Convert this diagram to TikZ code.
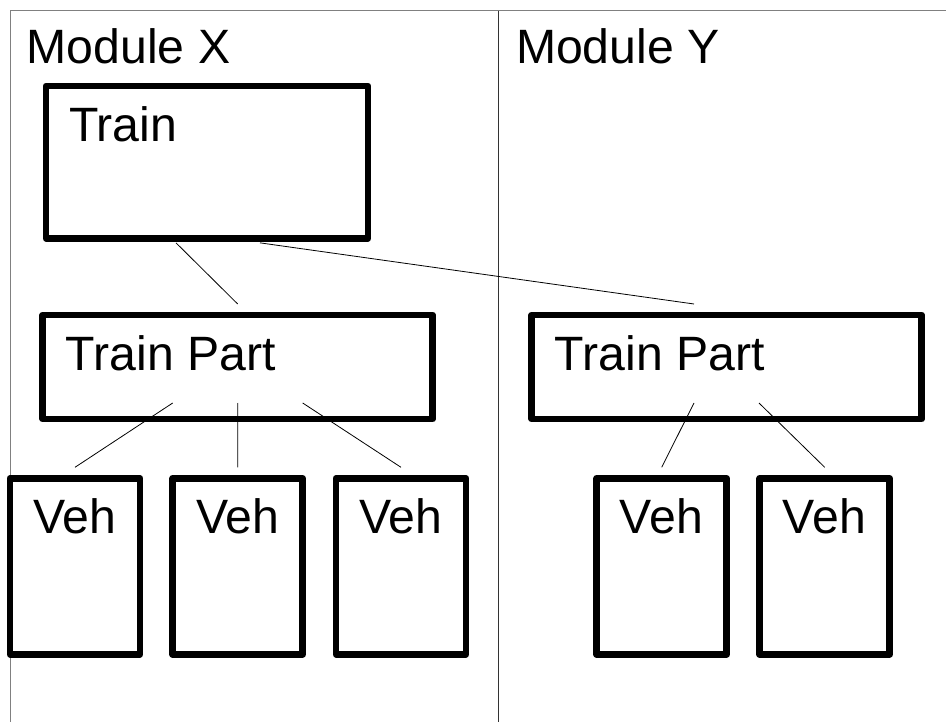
\documentclass[tikz,border=0pt]{standalone}
\usepackage{fontspec}
\setmainfont{Liberation Sans}
\usepackage{tikz}
\usetikzlibrary{calc}

\begin{document}
\begin{tikzpicture}[x=1pt,y=-1pt,
  box/.style={draw,line width=6.7pt,line join=round,inner sep=0pt,outer sep=0pt},
  trainbox/.style={box,minimum width=322pt,minimum height=152.3pt},
  partbox/.style={box,minimum width=390pt,minimum height=104pt},
  vehbox/.style={box,minimum width=130pt,minimum height=176pt},
  bigtxt/.style={inner sep=0pt,anchor=base west,font=\fontsize{48.2}{58}\selectfont},
  boxlbl/.style={bigtxt,xshift=23pt,yshift=-55.3pt},
  link/.style={line width=0.8pt}]
  \useasboundingbox (0,0) rectangle (946,722);
  \draw[gray,line width=1pt] (946,10.7) -- (10,10.7) -- (10,722);
  \draw[black!80,line width=0.9pt] (498.3,10.7) -- (498.3,722);
  \node[bigtxt] (modx) at (26.5,63.3) {Module X};
  \node[bigtxt] (mody) at (515.8,63.3) {Module Y};
  \node[trainbox] (train) at (207,162.2) {};
  \node[boxlbl] (trainlbl) at (train.north west) {Train};
  \node[partbox] (tpx) at (237.7,367) {};
  \node[boxlbl] (tpxlbl) at (tpx.north west) {Train Part};
  \node[partbox] (tpy) at (726.7,367) {};
  \node[boxlbl] (tpylbl) at (tpy.north west) {Train Part};
  \node[vehbox] (vx1) at (75,566.3) {};
  \node[vehbox] (vx2) at (237.8,566.3) {};
  \node[vehbox] (vx3) at (401,566.3) {};
  \node[vehbox] (vy1) at (661.7,566.3) {};
  \node[vehbox] (vy2) at (824.7,566.3) {};
  \node[boxlbl] (vx1lbl) at (vx1.north west) {Veh};
  \node[boxlbl] (vx2lbl) at (vx2.north west) {Veh};
  \node[boxlbl] (vx3lbl) at (vx3.north west) {Veh};
  \node[boxlbl] (vy1lbl) at (vy1.north west) {Veh};
  \node[boxlbl] (vy2lbl) at (vy2.north west) {Veh};
  \draw[link] ($(train.south)+(-31,4.5)$) -- ($(tpx.north)+(0,-11)$);
  \draw[link] ($(train.south)+(53,4.5)$) -- ($(tpy.north)+(-32.7,-11)$);
  \draw[link] ($(tpx.south)+(-65,-16)$) -- ($(vx1.north)+(0,-11)$);
  \draw[link] ($(tpx.south)+(0,-16)$) -- ($(vx2.north)+(0,-11)$);
  \draw[link] ($(tpx.south)+(65,-16)$) -- ($(vx3.north)+(0,-11)$);
  \draw[link] ($(tpy.south)+(-32.7,-16)$) -- ($(vy1.north)+(0,-11)$);
  \draw[link] ($(tpy.south)+(32.3,-16)$) -- ($(vy2.north)+(0,-11)$);
\end{tikzpicture}
\end{document}
